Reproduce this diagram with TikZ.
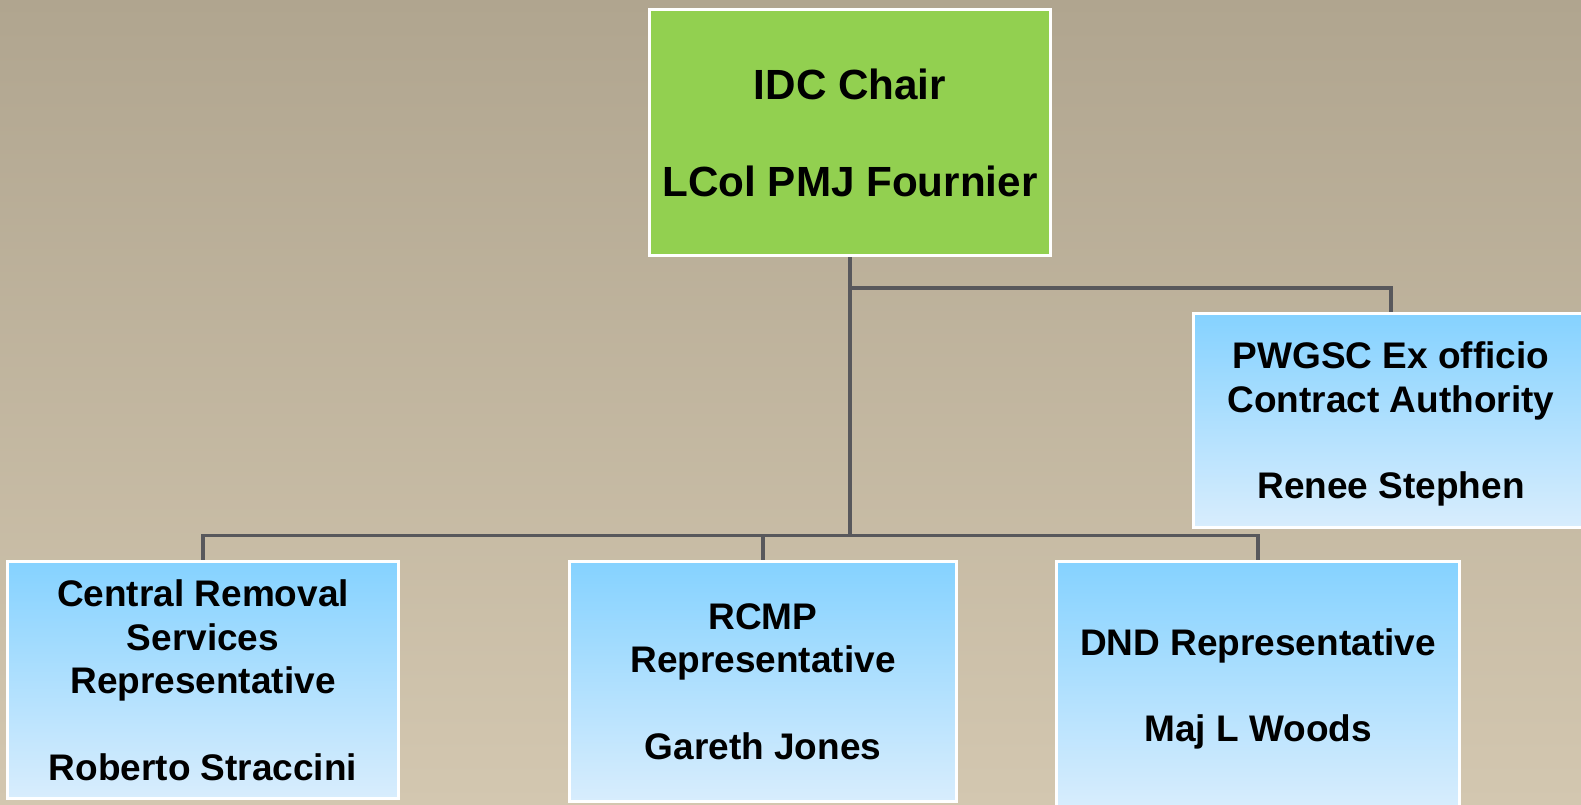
\documentclass[tikz,border=0pt]{standalone}
\usepackage{fontspec}
\setmainfont{Liberation Sans}
\definecolor{bgtop}{RGB}{176,165,143}
\definecolor{bgbot}{RGB}{211,199,176}
\definecolor{chairgreen}{RGB}{146,208,80}
\definecolor{bluetop}{RGB}{133,210,255}
\definecolor{bluebot}{RGB}{216,237,253}
\definecolor{linegrey}{RGB}{88,88,92}
\tikzset{
  orgbox/.style={draw=white, line width=3pt, inner sep=0pt, align=center,
    text depth=0pt,
    font=\fontsize{37}{43.3}\selectfont\bfseries},
  bluebox/.style={orgbox, top color=bluetop, bottom color=bluebot},
  chairbox/.style={orgbox, fill=chairgreen,
    font=\fontsize{42.2}{48.5}\selectfont\bfseries},
  link/.style={draw=linegrey, line width=3.8pt, line cap=rect}
}
\begin{document}
\begin{tikzpicture}[x=1pt,y=-1pt]
\useasboundingbox (0,0) rectangle (1581,804);
\clip (0,0) rectangle (1581,804);
\shade[top color=bgtop, bottom color=bgbot] (0,0) rectangle (1581,804);

% levels of the connector lines
\coordinate (busR) at (0,288);
\coordinate (busB) at (0,535.5);

% boxes (placed first so connectors can refer to them)
\node[chairbox, minimum width=401pt, minimum height=246pt] (chair) at (850,132.5)
  {IDC Chair\\[48.5pt]LCol PMJ Fournier};
\node[bluebox, minimum width=395pt, minimum height=214pt] (pwgsc) at (1391,420.5)
  {PWGSC Ex officio\\Contract Authority\\[43.3pt]Renee Stephen};
\node[bluebox, minimum width=391pt, minimum height=237pt] (crs) at (203,680)
  {Central Removal\\Services\\Representative\\[43.3pt]Roberto Straccini};
\node[bluebox, minimum width=387pt, minimum height=240pt] (rcmp) at (763,681.5)
  {RCMP\\Representative\\[43.3pt]Gareth Jones};
\node[bluebox, minimum width=403pt, minimum height=247pt] (dnd) at (1258,685)
  {DND Representative\\[43.3pt]Maj L Woods};

% connectors
\path[link] (chair.south) -- (chair.south |- busB)
  (chair.south |- busR) -| (pwgsc.north)
  (crs.north |- busB) -- (dnd.north |- busB)
  (crs.north |- busB) -- (crs.north)
  (rcmp.north |- busB) -- (rcmp.north)
  (dnd.north |- busB) -- (dnd.north);

% boxes redrawn over the connector ends
\node[chairbox, minimum width=401pt, minimum height=246pt] at (chair)
  {IDC Chair\\[48.5pt]LCol PMJ Fournier};
\node[bluebox, minimum width=395pt, minimum height=214pt] at (pwgsc)
  {PWGSC Ex officio\\Contract Authority\\[43.3pt]Renee Stephen};
\node[bluebox, minimum width=391pt, minimum height=237pt] at (crs)
  {Central Removal\\Services\\Representative\\[43.3pt]Roberto Straccini};
\node[bluebox, minimum width=387pt, minimum height=240pt] at (rcmp)
  {RCMP\\Representative\\[43.3pt]Gareth Jones};
\node[bluebox, minimum width=403pt, minimum height=247pt] at (dnd)
  {DND Representative\\[43.3pt]Maj L Woods};
\end{tikzpicture}
\end{document}
